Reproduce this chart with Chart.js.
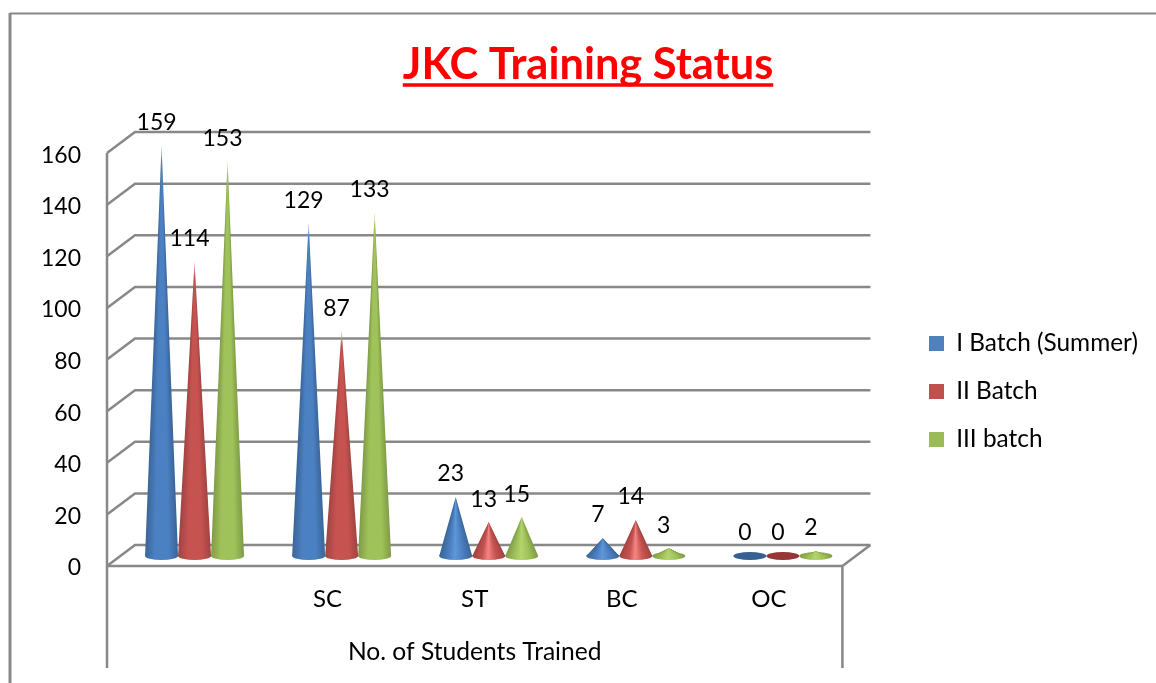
<!DOCTYPE html>
<html>
<head>
<meta charset="utf-8">
<title>JKC Training Status</title>
<script src="https://cdn.jsdelivr.net/npm/chart.js@4"></script>
<style>
    html, body { margin: 0; padding: 0; background: #fff; overflow: hidden; }
    canvas { display: block; }
</style>
</head>
<body>
<canvas id="jkcChart" width="1156" height="683"></canvas>
<script>
const categories = ['', 'SC', 'ST', 'BC', 'OC'];
const batch1 = [159, 129, 23, 7, 0];
const batch2 = [114, 87, 13, 14, 0];
const batch3 = [153, 133, 15, 3, 2];

const FONT = 'Lato, Carlito, Calibri, sans-serif';
const LINE = '#888888';
const DEPTH_X = 28, DEPTH_Y = 21;   // back wall offset
const CONE_X = 14, CONE_Y = 10;     // cones stand mid floor
const RY = 4;

const shades = [
    { edge: '#3a6597', mid: '#4b80c2', light: '#5f97d8', flat: '#376092' },
    { edge: '#a04442', mid: '#c65350', light: '#f58583', flat: '#953735' },
    { edge: '#7f9c46', mid: '#a0c25a', light: '#b4d46c', flat: '#7f9f40' }
];

function coneFill(ctx, x, r, shade, bright) {
    const g = ctx.createLinearGradient(x - r, 0, x + r, 0);
    g.addColorStop(0, shade.edge);
    g.addColorStop(0.3, shade.mid);
    g.addColorStop(0.48, bright ? shade.light : shade.mid);
    g.addColorStop(0.72, shade.mid);
    g.addColorStop(1, shade.edge);
    return g;
}

function drawCone(ctx, x, base, tip, w, shade) {
    const r = w / 2;
    const top = Math.round(tip);
    const bottom = Math.round(base);
    const h = bottom - top;
    ctx.save();
    if (h < 3) {
        ctx.fillStyle = shade.flat;
        ctx.beginPath();
        ctx.ellipse(x, base, r, RY, 0, 0, Math.PI * 2);
        ctx.fill();
        ctx.restore();
        return;
    }
    const bright = h < 60;
    ctx.fillStyle = coneFill(ctx, x, r, shade, bright);
    ctx.beginPath();
    ctx.ellipse(x, bottom, r, RY, 0, 0, Math.PI * 2);
    ctx.fill();
    // row by row so the shading narrows with the cone
    for (let y = top; y < bottom; y++) {
        const lr = r * (y + 0.5 - top) / h;
        ctx.fillStyle = coneFill(ctx, x, lr, shade, bright);
        ctx.fillRect(x - lr, y, lr * 2, 1);
        if (h > 60 && y - top < 14) {
            ctx.fillStyle = 'rgba(255,255,255,' + (0.7 * (1 - (y - top) / 14)) + ')';
            ctx.fillRect(x - lr, y, lr * 2, 1);
        }
    }
    ctx.restore();
}

const conePlugin = {
    id: 'cones',
    afterLayout(chart) {
        const legend = chart.legend;
        legend.left = 929 - chart.options.plugins.legend.labels.padding;
        legend.right = 1156;
        legend.top += 50;
        legend.bottom += 50;
        chart.titleBlock.left = 20;
        chart.titleBlock.right = 1156;
    },
    beforeDraw(chart) {
        const ctx = chart.ctx;
        ctx.save();
        ctx.strokeStyle = LINE;
        ctx.lineWidth = 2;
        ctx.beginPath();
        ctx.moveTo(1156, 13.5);
        ctx.lineTo(10, 13.5);
        ctx.stroke();
        ctx.lineWidth = 3;
        ctx.beginPath();
        ctx.moveTo(10, 13);
        ctx.lineTo(10, 683);
        ctx.stroke();

        // underline for the title
        const t = chart.titleBlock;
        ctx.font = t.options.font.weight + ' ' + t.options.font.size + 'px ' + FONT;
        const tw = ctx.measureText(t.options.text).width;
        ctx.strokeStyle = t.options.color;
        ctx.lineWidth = 3.5;
        ctx.beginPath();
        ctx.moveTo(588 - tw / 2, 85);
        ctx.lineTo(588 + tw / 2, 85);
        ctx.stroke();
        ctx.restore();
    },
    beforeDatasetsDraw(chart) {
        const ctx = chart.ctx;
        const area = chart.chartArea;
        const yScale = chart.scales.y;
        ctx.save();
        ctx.strokeStyle = LINE;
        ctx.lineWidth = 2.5;
        yScale.ticks.forEach((tick) => {
            const y = yScale.getPixelForValue(tick.value);
            ctx.beginPath();
            ctx.moveTo(area.left, y);
            ctx.lineTo(area.left + DEPTH_X, y - DEPTH_Y);
            ctx.lineTo(area.right + DEPTH_X, y - DEPTH_Y);
            ctx.stroke();
        });
        ctx.beginPath();
        ctx.moveTo(area.left, area.top);
        ctx.lineTo(area.left, 668);
        ctx.moveTo(area.left, area.bottom);
        ctx.lineTo(area.right, area.bottom);
        ctx.lineTo(area.right + DEPTH_X, area.bottom - DEPTH_Y);
        ctx.moveTo(area.right, area.bottom);
        ctx.lineTo(area.right, 668);
        ctx.stroke();
        ctx.restore();
    },
    beforeDatasetDraw(chart, args) {
        const ctx = chart.ctx;
        args.meta.data.forEach((bar) => {
            drawCone(ctx, bar.x + CONE_X, bar.base - CONE_Y, bar.y - CONE_Y, bar.width, shades[args.index]);
        });
        return false;
    },
    afterDatasetsDraw(chart) {
        const ctx = chart.ctx;
        ctx.save();
        ctx.fillStyle = '#000';
        ctx.font = '23px ' + FONT;
        ctx.textAlign = 'center';
        ctx.textBaseline = 'middle';
        chart.data.datasets.forEach((ds, i) => {
            chart.getDatasetMeta(i).data.forEach((bar, j) => {
                ctx.fillText(ds.data[j], bar.x + CONE_X - 5, bar.y - CONE_Y - 23);
            });
        });
        ctx.restore();
    }
};

const chart = new Chart(document.getElementById('jkcChart').getContext('2d'), {
    type: 'bar',
    plugins: [conePlugin],
    data: {
        labels: categories,
        datasets: [
            { label: 'I Batch (Summer)', data: batch1, backgroundColor: '#4f81bd' },
            { label: 'II Batch', data: batch2, backgroundColor: '#c0504d' },
            { label: 'III batch', data: batch3, backgroundColor: '#9bbb59' }
        ]
    },
    options: {
        responsive: false,
        animation: false,
        layout: { padding: { left: 10, right: 71, top: 0, bottom: 0 } },
        datasets: { bar: { categoryPercentage: 0.673, barPercentage: 1 } },
        plugins: {
            title: {
                display: true,
                text: 'JKC Training Status',
                color: '#ff0000',
                font: { family: FONT, size: 43.4, weight: 'bold' },
                padding: { top: 39, bottom: 62 }
            },
            legend: {
                position: 'right',
                labels: {
                    color: '#000',
                    boxWidth: 15,
                    boxHeight: 15,
                    padding: 23.6,
                    font: { family: FONT, size: 24.4 }
                }
            },
            tooltip: { enabled: false }
        },
        scales: {
            x: {
                grid: { display: false },
                border: { display: false },
                ticks: {
                    color: '#000',
                    padding: 11,
                    maxRotation: 0,
                    autoSkip: false,
                    font: { family: FONT, size: 24 }
                },
                title: {
                    display: true,
                    text: 'No. of Students Trained',
                    color: '#000',
                    font: { family: FONT, size: 24.6 },
                    padding: { top: 0, bottom: 16 }
                },
                afterFit(scale) { scale.height = 117; }
            },
            y: {
                min: 0,
                max: 160,
                grid: { display: false },
                border: { display: false },
                ticks: {
                    stepSize: 20,
                    color: '#000',
                    padding: 18,
                    labelOffset: 2,
                    font: { family: FONT, size: 23 }
                },
                afterFit(scale) { scale.width = 97; }
            }
        }
    }
});
</script>
</body>
</html>
